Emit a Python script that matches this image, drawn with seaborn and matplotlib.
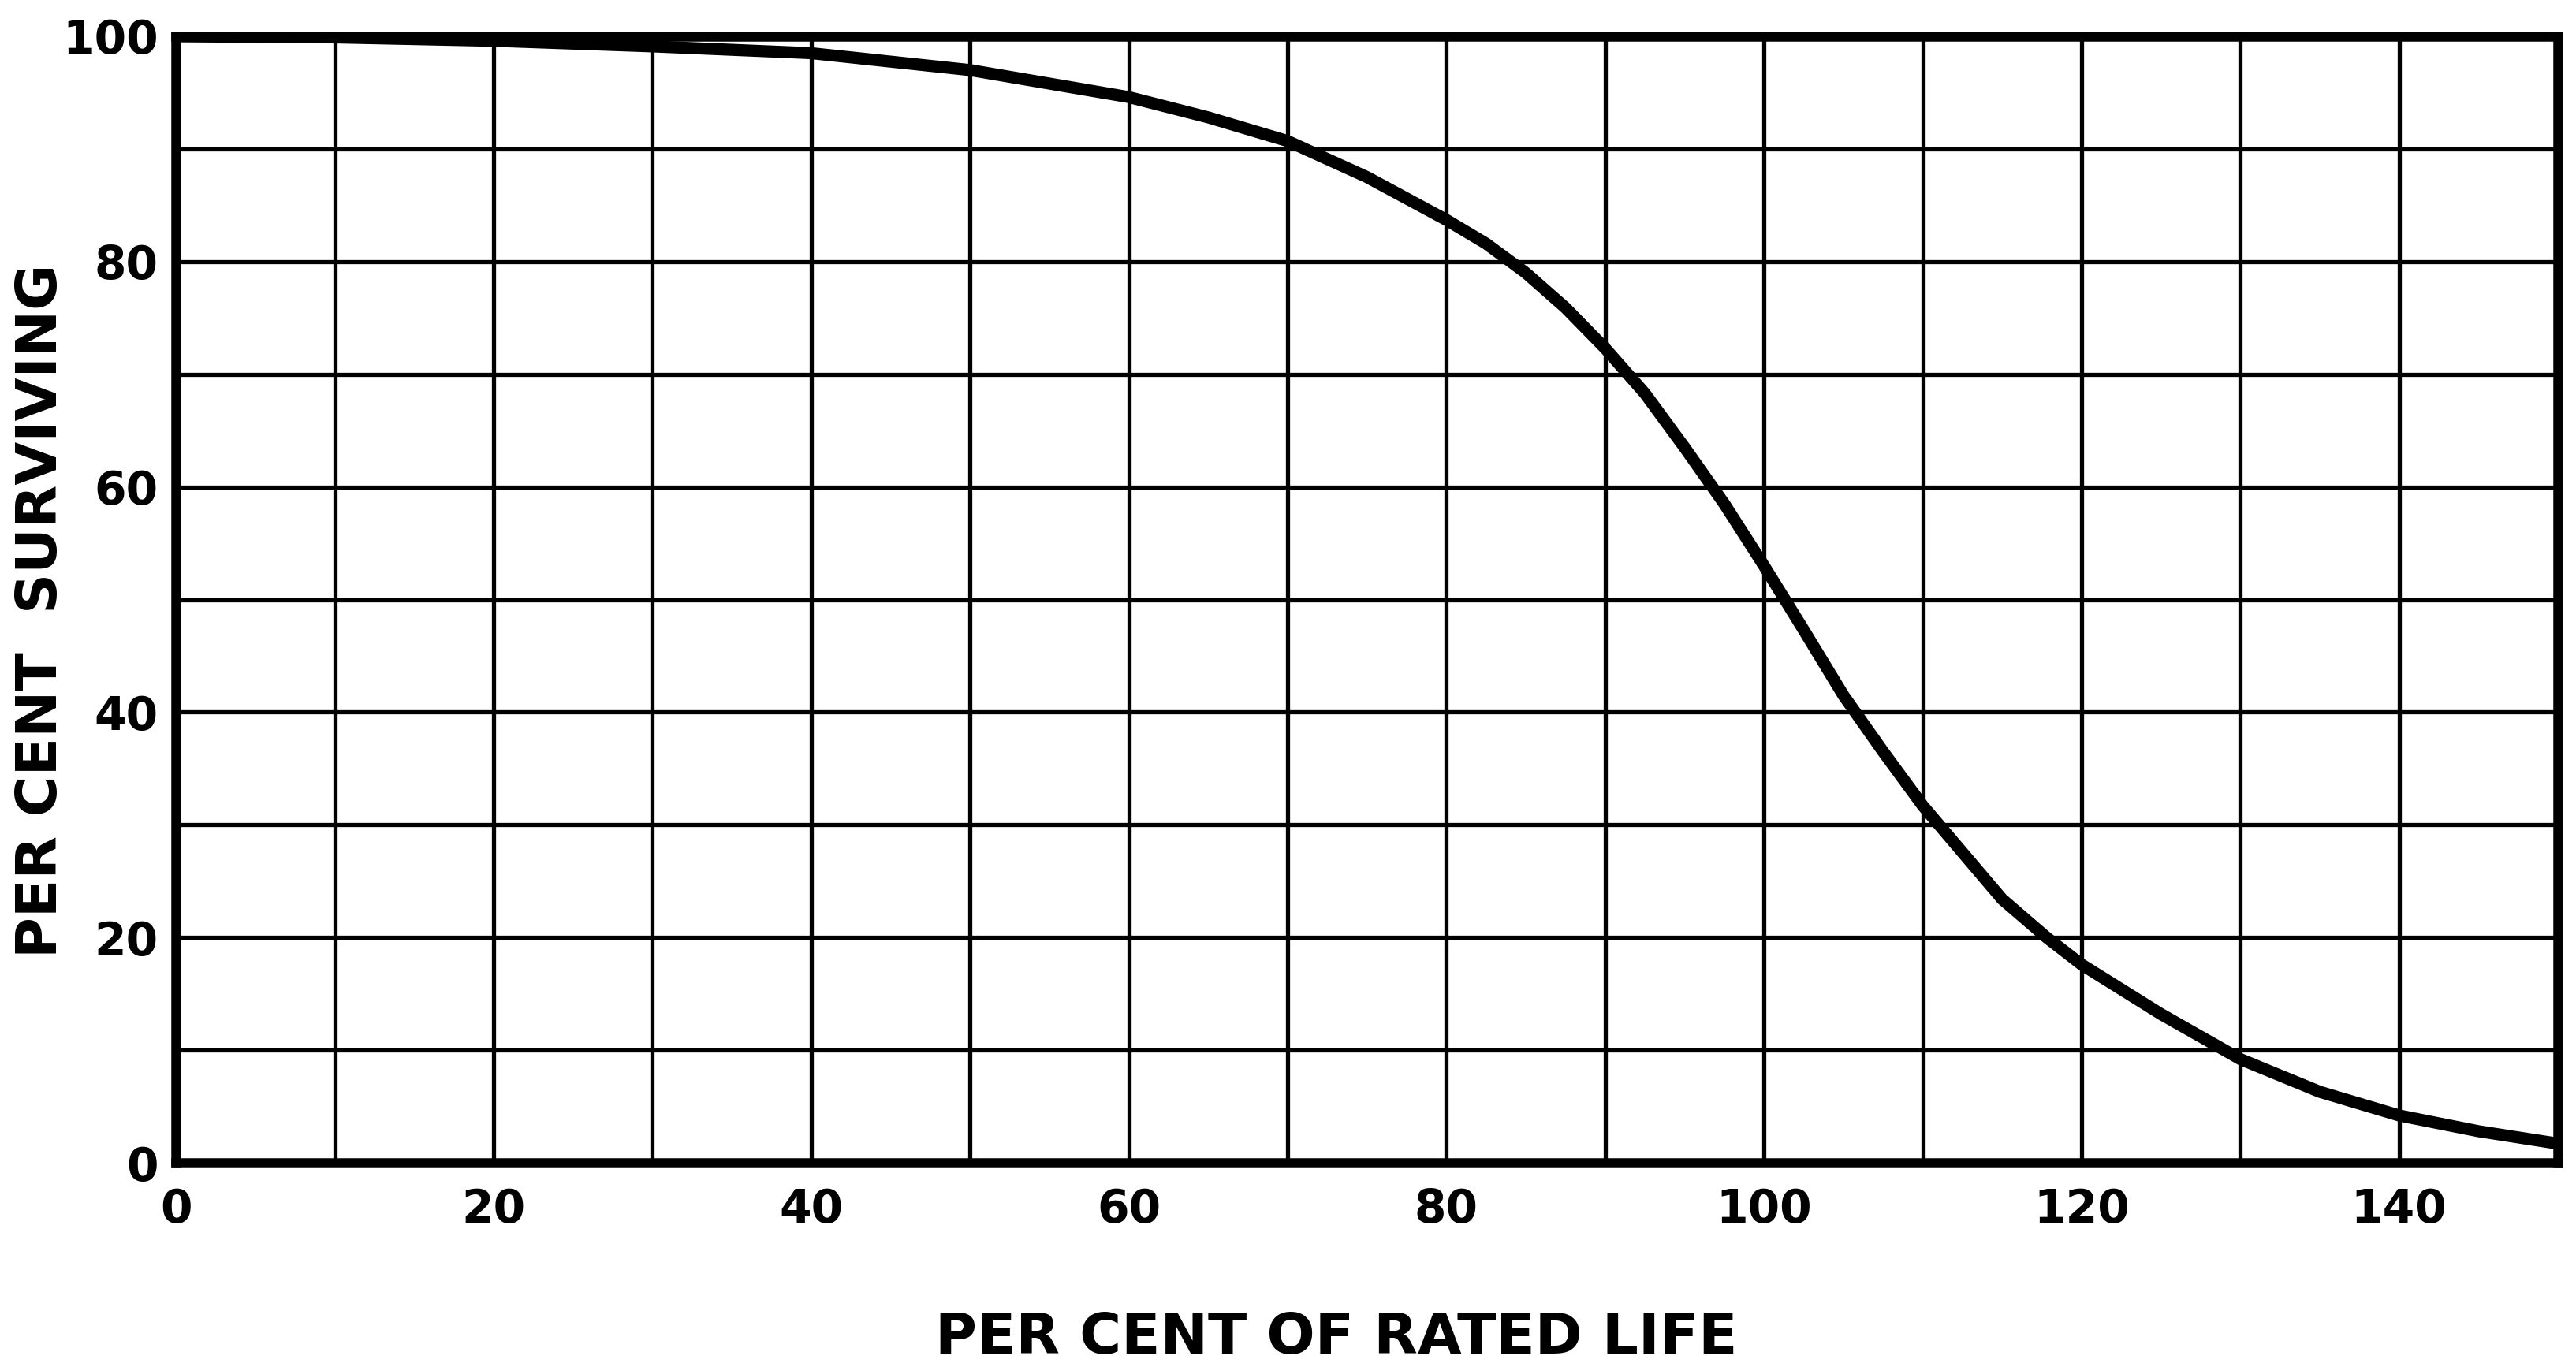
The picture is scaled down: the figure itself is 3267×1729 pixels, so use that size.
import matplotlib
matplotlib.use("Agg")
import matplotlib.pyplot as plt
import seaborn as sns
import pandas as pd
from matplotlib.ticker import MultipleLocator

# Data
rated_life = [0, 10, 20, 30, 40, 50, 60, 65, 70, 75, 80, 82.5, 85, 87.5, 90, 92.5,
              95, 97.5, 100, 102.5, 105, 107.5, 110, 115, 117.8, 120, 125,
              130, 135, 140, 145, 150]
surviving = [100, 99.9, 99.6, 99.1, 98.5, 97.0, 94.6, 92.8, 90.7, 87.5, 83.7, 81.6, 79.0,
             75.9, 72.3, 68.3, 63.5, 58.5, 53.0, 47.3, 41.5, 36.5, 31.7, 23.4,
             20.0, 17.6, 13.2, 9.2, 6.3, 4.2, 2.8, 1.7]
x_ticks = [0, 20, 40, 60, 80, 100, 120, 140]
y_ticks = [0, 20, 40, 60, 80, 100]
x_label = "PER CENT OF RATED LIFE"
y_label = "PER CENT  SURVIVING"

sns.set_style("white")
plt.rcParams['font.family'] = ['DejaVu Sans']
plt.rcParams['font.weight'] = 'bold'
plt.rcParams['text.color'] = 'black'
plt.rcParams['xtick.color'] = 'black'
plt.rcParams['ytick.color'] = 'black'
plt.rcParams['axes.labelcolor'] = 'black'

df = pd.DataFrame({"life": rated_life, "surv": surviving})

fig = plt.figure(figsize=(32.67, 17.29), dpi=100)
ax = fig.add_axes([0.0683, 0.1469, 0.9930 - 0.0683, 0.9734 - 0.1469])

sns.lineplot(data=df, x="life", y="surv", ax=ax, color="black", linewidth=11,
             solid_joinstyle="round", solid_capstyle="butt", zorder=5)

ax.set_xlim(0, 150)
ax.set_ylim(0, 100)
ax.xaxis.set_minor_locator(MultipleLocator(10))
ax.yaxis.set_minor_locator(MultipleLocator(10))
ax.set_xticks(x_ticks)
ax.set_yticks(y_ticks)
ax.set_xticklabels([str(v) for v in x_ticks])
ax.set_yticklabels([str(v) for v in y_ticks])
ax.grid(True, which="both", color="black", linewidth=3.8)
ax.set_axisbelow(True)
ax.tick_params(which="both", length=0)
ax.tick_params(axis="x", pad=22, labelsize=42)
ax.tick_params(axis="y", pad=16, labelsize=42)
for lab in ax.get_xticklabels() + ax.get_yticklabels():
    lab.set_fontweight("bold")

for s in ax.spines.values():
    s.set_visible(True)
    s.set_color("black")
    s.set_linewidth(9)

ax.set_xlabel(x_label, fontsize=52, fontweight="bold")
ax.xaxis.set_label_coords(0.487, -0.156)
ax.xaxis.label.set_verticalalignment("center")
ax.set_ylabel(y_label, fontsize=51, fontweight="bold")
ax.yaxis.set_label_coords(-0.0566, 0.49)
ax.yaxis.label.set_verticalalignment("center")

fig.savefig("out.png", dpi=100, facecolor="white")
